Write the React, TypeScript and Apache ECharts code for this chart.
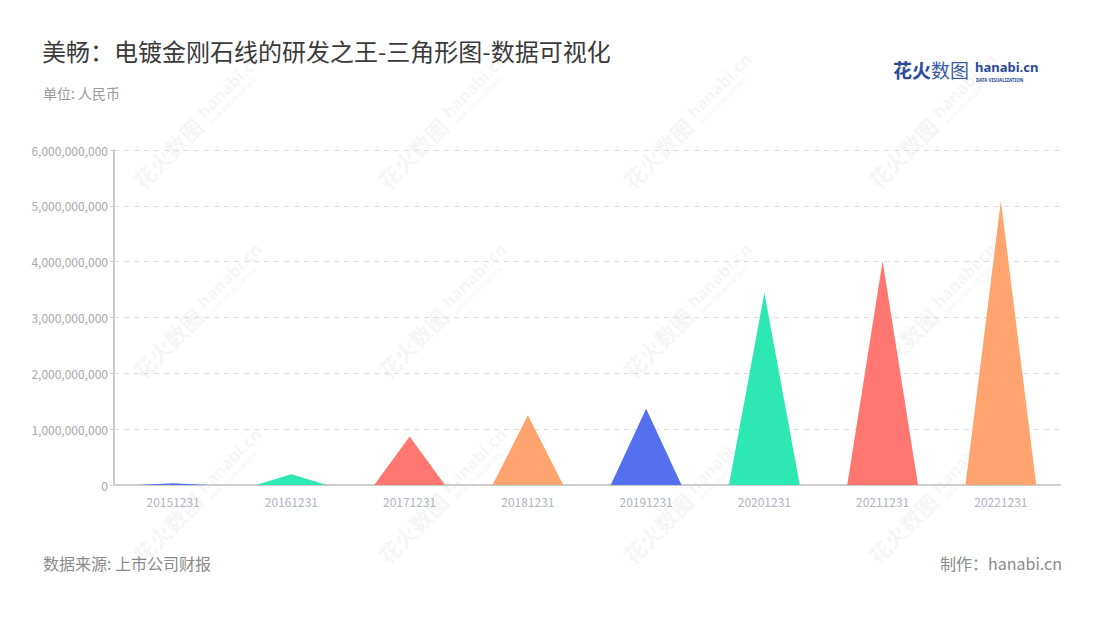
import React, { useEffect, useRef } from "react";
import * as echarts from "echarts";

const categories = ["20151231", "20161231", "20171231", "20181231", "20191231", "20201231", "20211231", "20221231"];
const values = [30000000, 190000000, 870000000, 1250000000, 1365000000, 3445000000, 4010000000, 5085000000];
const colors = ["#5470ee", "#2de8b2", "#ff7770", "#ffa46e"];
const yTicks = [0, 1000000000, 2000000000, 3000000000, 4000000000, 5000000000, 6000000000];

const titleText = "美畅：电镀金刚石线的研发之王-三角形图-数据可视化";
const unitText = "单位: 人民币";
const sourceText = "数据来源: 上市公司财报";
const makerText = "制作：hanabi.cn";

const wmCols = [180, 425, 670, 915];
const wmRows = [140, 330, 515];

function watermark(x: number, y: number) {
  const fill = "rgba(120,120,120,0.08)";
  return {
    type: "group",
    x,
    y,
    rotation: Math.PI / 4,
    silent: true,
    z: 100,
    children: [
      {
        type: "text",
        x: -62,
        y: 0,
        style: { text: "花火数图", font: "bold 22px 'Noto Sans CJK SC'", fill, verticalAlign: "middle" },
      },
      {
        type: "text",
        x: 32,
        y: -4,
        style: { text: "hanabi.cn", font: "bold 17px 'Noto Sans'", fill, verticalAlign: "middle" },
      },
      {
        type: "text",
        x: 34,
        y: 10,
        style: { text: "DATA VISUALIZATION", font: "bold 6px 'Noto Sans'", fill, verticalAlign: "middle" },
      },
    ],
  };
}

export default function App() {
  const ref = useRef<HTMLDivElement>(null);
  useEffect(() => {
    document.body.style.margin = "0";
    const chart = echarts.init(ref.current!, null, { renderer: "svg" });
    const wms: any[] = [];
    wmRows.forEach((r) => wmCols.forEach((c) => wms.push(watermark(c, r))));
    chart.setOption({
      animation: false,
      backgroundColor: "#ffffff",
      grid: { left: 114, right: 40, top: 150, bottom: 135 },
      xAxis: {
        type: "category",
        data: categories,
        axisLine: { lineStyle: { color: "#cccccc", width: 2 } },
        axisTick: { alignWithLabel: true, length: 5, lineStyle: { color: "#aaaaaa" } },
        axisLabel: { color: "#b0b4c0", fontSize: 12, margin: 10, fontFamily: "'Noto Sans CJK SC'" },
      },
      yAxis: {
        type: "value",
        min: 0,
        max: yTicks[yTicks.length - 1],
        interval: yTicks[1] - yTicks[0],
        axisLine: { show: true, lineStyle: { color: "#cccccc", width: 2 } },
        axisTick: { show: true, length: 4, lineStyle: { color: "#cccccc" } },
        axisLabel: {
          color: "#a8a8a8",
          fontSize: 12,
          margin: 6,
          fontFamily: "'Noto Sans CJK SC'",
          formatter: (v: number) => v.toLocaleString("en-US"),
        },
        splitLine: { lineStyle: { color: "#dddddd", type: [5, 5] } },
      },
      series: [
        {
          type: "pictorialBar",
          symbol: "triangle",
          barWidth: "60%",
          symbolSize: ["100%", "100%"],
          data: values.map((v, i) => ({ value: v, itemStyle: { color: colors[i % colors.length] } })),
        },
      ],
      graphic: [
        {
          type: "text",
          left: 42,
          top: 38,
          style: { text: titleText, font: "normal 24px 'Noto Sans CJK SC'", fill: "#3a3a3a" },
        },
        {
          type: "text",
          left: 43,
          top: 86,
          style: { text: unitText, font: "14px 'Noto Sans CJK SC'", fill: "#9a9a9a" },
        },
        {
          type: "text",
          left: 43,
          top: 555,
          style: { text: sourceText, font: "16px 'Noto Sans CJK SC'", fill: "#8a8a8a" },
        },
        {
          type: "text",
          right: 38,
          top: 555,
          style: { text: makerText, font: "16px 'Noto Sans CJK SC'", fill: "#8a8a8a" },
        },
        {
          type: "text",
          left: 893,
          top: 60,
          style: { text: "花火", font: "bold 19px 'Noto Sans CJK SC'", fill: "#2a4a9a" },
        },
        {
          type: "text",
          left: 931,
          top: 60,
          style: { text: "数图", font: "normal 19px 'Noto Sans CJK SC'", fill: "#3a5aa8" },
        },
        {
          type: "text",
          left: 975,
          top: 60,
          style: { text: "hanabi.cn", font: "bold 13px 'Noto Sans'", fill: "#2a4a9a" },
        },
        {
          type: "text",
          left: 976,
          top: 77,
          style: { text: "DATA VISUALIZATION", font: "bold 4.5px 'Noto Sans'", fill: "#2a4a9a" },
        },
        ...wms,
      ],
    });
    return () => chart.dispose();
  }, []);
  return <div ref={ref} style={{ width: 1100, height: 620 }} />;
}
